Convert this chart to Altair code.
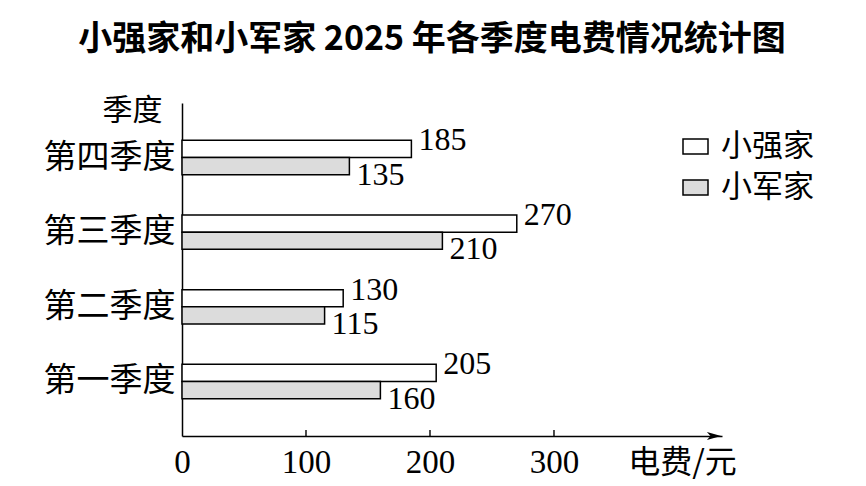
import altair as alt
import pandas as pd

# ---- data ----
quarters = ["第一季度", "第二季度", "第三季度", "第四季度"]
xiaoqiang = [205, 130, 270, 185]
xiaojun = [160, 115, 210, 135]
series = ["小强家", "小军家"]
tick_values = [0, 100, 200, 300]
minor_ticks = [100, 200, 300]

rows = []
for q, a, b in zip(quarters, xiaoqiang, xiaojun):
    rows.append({"季度": q, "家庭": series[0], "电费": a})
    rows.append({"季度": q, "家庭": series[1], "电费": b})
df = pd.DataFrame(rows)
tick_df = pd.DataFrame({"v": minor_ticks})

order = quarters[::-1]
W, H = 540, 333
CJK = "Noto Sans CJK SC"
NUM = "Liberation Serif, Noto Sans CJK SC"

x_scale = alt.Scale(domain=[0, 435.5], nice=False, zero=True)
y_enc = alt.Y(
    "季度:N",
    sort=order,
    scale=alt.Scale(domain=order, paddingInner=0.54, paddingOuter=0.5),
    axis=alt.Axis(
        title="季度",
        titleAngle=0,
        titleX=-50,
        titleY=7,
        titleAlign="center",
        titleBaseline="middle",
        titleFont=CJK,
        titleFontSize=30,
        titleFontWeight="normal",
        titleColor="black",
        labelFont=CJK,
        labelFontSize=33,
        labelColor="black",
        labelPadding=7,
        ticks=False,
        domainColor="black",
        domainWidth=1.5,
    ),
)
yoff = alt.YOffset("家庭:N", sort=series,
                   scale=alt.Scale(domain=series, paddingInner=0, paddingOuter=0))
x_enc = alt.X(
    "电费:Q",
    scale=x_scale,
    axis=alt.Axis(
        values=tick_values,
        title="电费/元",
        titleX=500,
        titleY=26,
        titleAlign="center",
        titleBaseline="middle",
        titleFont=CJK,
        titleFontSize=32,
        titleFontWeight="normal",
        titleColor="black",
        labelFont=NUM,
        labelFontSize=33,
        labelColor="black",
        labelPadding=10,
        labelFlush=False,
        ticks=False,
        domainColor="black",
        domainWidth=1.5,
        grid=False,
    ),
)

base = alt.Chart(df)

bars = base.mark_bar(stroke="black", strokeWidth=1.5).encode(
    x=x_enc,
    y=y_enc,
    yOffset=yoff,
    fill=alt.Fill(
        "家庭:N",
        sort=series,
        scale=alt.Scale(domain=series, range=["white", "#dcdcdc"]),
        legend=alt.Legend(
            title=None,
            orient="none",
            legendX=498,
            legendY=28,
            symbolType="M-1,-0.6H1V0.6H-1Z",
            symbolSize=625,
            symbolStrokeColor="black",
            symbolStrokeWidth=1.5,
            labelFont=CJK,
            labelFontSize=31,
            labelColor="black",
            labelOffset=10,
            rowPadding=9,
        ),
    ),
)

label_top = base.transform_filter(alt.datum["家庭"] == series[0]).mark_text(
    align="left", baseline="middle", dx=7, dy=-8.6, font=NUM, fontSize=32, color="black"
).encode(x=alt.X("电费:Q", scale=x_scale), y=alt.Y("季度:N", sort=order), yOffset=yoff, text="电费:Q")

label_bot = base.transform_filter(alt.datum["家庭"] == series[1]).mark_text(
    align="left", baseline="middle", dx=7, dy=8.6, font=NUM, fontSize=32, color="black"
).encode(x=alt.X("电费:Q", scale=x_scale), y=alt.Y("季度:N", sort=order), yOffset=yoff, text="电费:Q")

ticks = alt.Chart(tick_df).mark_rule(color="black", strokeWidth=1.4).encode(
    x=alt.X("v:Q", scale=x_scale),
    y=alt.value(H),
    y2=alt.value(H - 6),
)

arrow = alt.Chart(pd.DataFrame({"a": [0]})).mark_point(
    shape="M-1,-0.55L1,0L-1,0.55L-0.5,0Z", filled=True, color="black", size=200, opacity=1
).encode(x=alt.value(W - 8), y=alt.value(H))

chart = alt.layer(bars, label_top, label_bot, ticks, arrow).properties(
    width=W,
    height=H,
    title=alt.TitleParams(
        "小强家和小军家 2025 年各季度电费情况统计图",
        font=CJK,
        fontSize=34,
        fontWeight="bold",
        color="black",
        anchor="middle",
        dx=-20,
        offset=38,
    ),
    autosize=alt.AutoSizeParams(type="none"),
    padding={"left": 174, "top": 95, "right": 136, "bottom": 44},
    background="white",
).configure_view(stroke=None)

chart.save("out.html", embed_options={"renderer": "svg", "actions": False})
